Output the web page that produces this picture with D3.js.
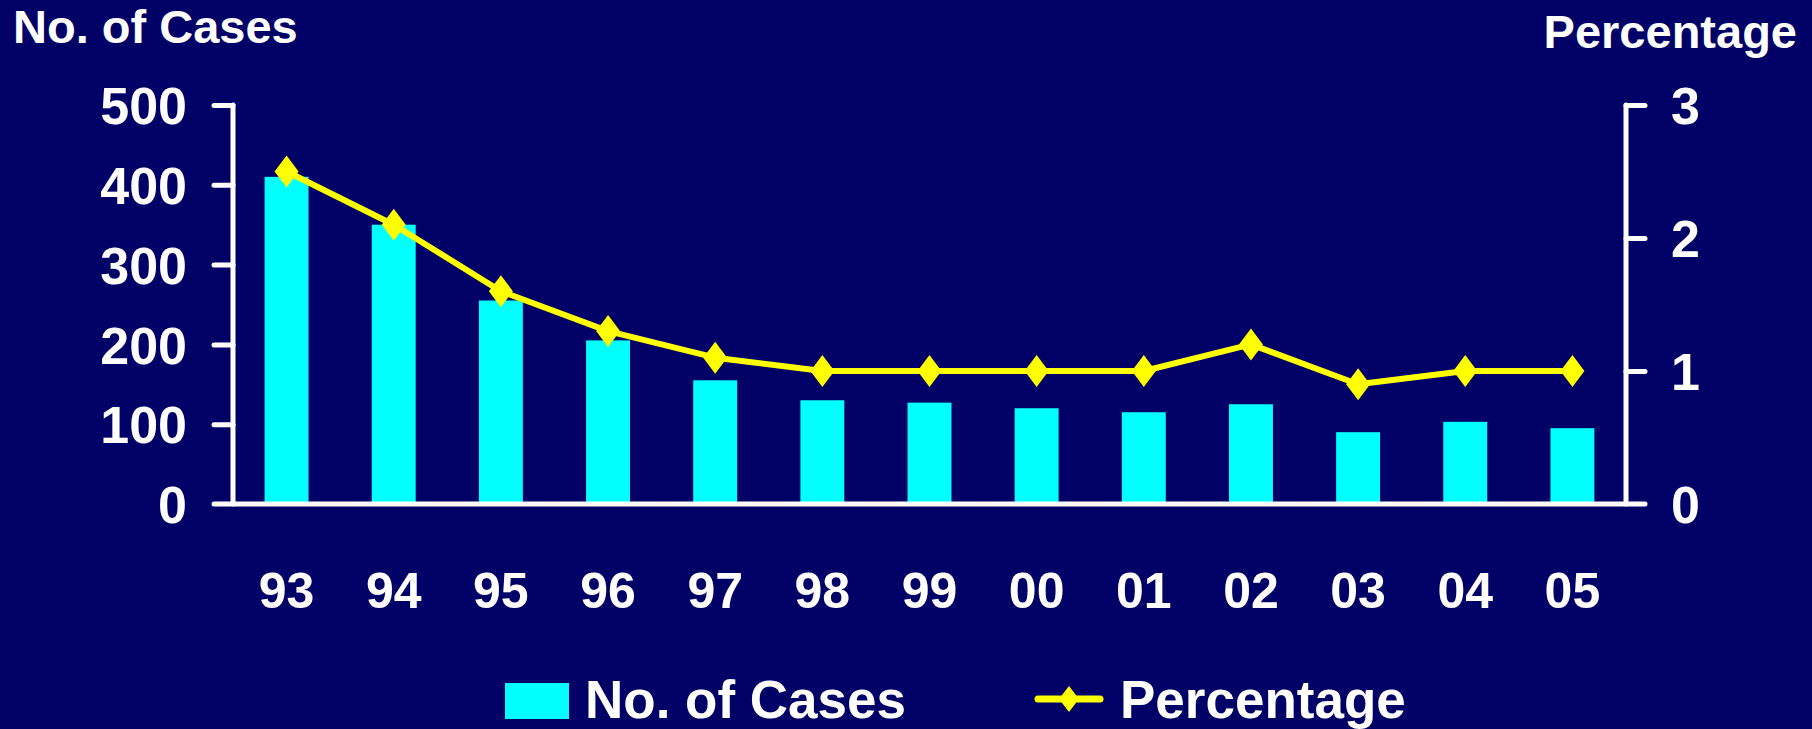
<!DOCTYPE html>
<meta charset="utf-8">
<style type="text/css">
    html, body {
        margin: 0;
        padding: 0;
        background: #000066;
    }
    svg text {
        font-family: Arial, "Liberation Sans", sans-serif;
        font-weight: bold;
        fill: #ffffff;
    }
</style>
<svg id="chart"></svg>
<script src="https://cdn.jsdelivr.net/npm/d3@7/dist/d3.min.js" type="text/javascript"></script>
<script type="text/javascript">
    // data
    var years = ["93", "94", "95", "96", "97", "98", "99", "00", "01", "02", "03", "04", "05"];
    var cases = [410, 350, 255, 205, 155, 130, 127, 120, 115, 125, 90, 103, 95];
    var percentage = [2.5, 2.1, 1.6, 1.3, 1.1, 1.0, 1.0, 1.0, 1.0, 1.2, 0.9, 1.0, 1.0];
    var casesTicks = [0, 100, 200, 300, 400, 500];
    var pctTicks = [0, 1, 2, 3];

    var width = 1812, height = 729;
    // plot edges (don't call it "top", that's window.top)
    var plotLeft = 233, plotRight = 1626, plotTop = 105, plotBottom = 504;

    var svg = d3.select("#chart")
        .attr("width", width)
        .attr("height", height);

    svg.append("rect")
        .attr("width", width)
        .attr("height", height)
        .attr("fill", "#000066");

    var x = d3.scaleBand()
        .domain(years)
        .range([plotLeft, plotRight])
        .paddingInner(0.59)
        .paddingOuter(0.295);

    var yCases = d3.scaleLinear().domain([0, 500]).range([plotBottom, plotTop]);
    var yPct = d3.scaleLinear().domain([0, 3]).range([plotBottom, plotTop]);

    // bars
    svg.append("g").selectAll("rect")
        .data(years)
        .join("rect")
        .attr("x", d => x(d))
        .attr("width", x.bandwidth())
        .attr("y", (d, i) => yCases(cases[i]))
        .attr("height", (d, i) => yCases(0) - yCases(cases[i]))
        .attr("fill", "#00ffff");

    // axes, restyled after the generators run
    var leftAxis = svg.append("g")
        .attr("transform", "translate(" + plotLeft + ",0)")
        .call(d3.axisLeft(yCases).tickValues(casesTicks).tickSize(19).tickPadding(27).tickFormat(d3.format("d")));
    var rightAxis = svg.append("g")
        .attr("transform", "translate(" + plotRight + ",0)")
        .call(d3.axisRight(yPct).tickValues(pctTicks).tickSize(19).tickPadding(26).tickFormat(d3.format("d")));

    [leftAxis, rightAxis].forEach(function (g) {
        g.select(".domain").remove();
        g.selectAll(".tick line")
            .attr("stroke", "#ffffff")
            .attr("stroke-width", 5)
            .attr("stroke-linecap", "round");
        g.selectAll(".tick text")
            .attr("fill", "#ffffff")
            .attr("font-size", 52)
            .attr("font-family", "Arial, 'Liberation Sans', sans-serif")
            .attr("font-weight", "bold")
            .attr("dy", "0.36em");
    });
    // zero ticks are covered by the baseline
    leftAxis.selectAll(".tick").filter(d => d === 0).select("line").remove();
    rightAxis.selectAll(".tick").filter(d => d === 0).select("line").remove();

    var axisLines = svg.append("g")
        .attr("stroke", "#ffffff")
        .attr("stroke-width", 5)
        .attr("stroke-linecap", "round");
    axisLines.append("line").attr("x1", plotLeft).attr("x2", plotLeft).attr("y1", plotTop).attr("y2", plotBottom);
    axisLines.append("line").attr("x1", plotRight).attr("x2", plotRight).attr("y1", plotTop).attr("y2", plotBottom);
    axisLines.append("line").attr("x1", plotLeft - 19).attr("x2", plotRight + 19).attr("y1", plotBottom).attr("y2", plotBottom);

    // x labels
    svg.append("g").selectAll("text")
        .data(years)
        .join("text")
        .attr("x", d => x(d) + x.bandwidth() / 2)
        .attr("y", 608)
        .attr("text-anchor", "middle")
        .attr("font-size", 50)
        .text(d => d);

    // percentage line
    var cx = (d, i) => x(years[i]) + x.bandwidth() / 2;
    var line = d3.line()
        .x((d, i) => cx(d, i))
        .y(d => yPct(d));

    svg.append("path")
        .datum(percentage)
        .attr("d", line)
        .attr("fill", "none")
        .attr("stroke", "#ffff00")
        .attr("stroke-width", 6)
        .attr("stroke-linejoin", "round");

    function diamond(w, h) {
        return "M0," + (-h) + "L" + w + ",0L0," + h + "L" + (-w) + ",0Z";
    }

    svg.append("g").selectAll("path")
        .data(percentage)
        .join("path")
        .attr("transform", (d, i) => "translate(" + cx(d, i) + "," + yPct(d) + ")")
        .attr("d", diamond(12, 16))
        .attr("fill", "#ffff00");

    // axis titles
    svg.append("text")
        .attr("x", 13)
        .attr("y", 43)
        .attr("font-size", 47)
        .text("No. of Cases");
    svg.append("text")
        .attr("x", 1797)
        .attr("y", 48)
        .attr("text-anchor", "end")
        .attr("font-size", 47)
        .text("Percentage");

    // legend
    var legend = svg.append("g");
    legend.append("rect")
        .attr("x", 505).attr("y", 683)
        .attr("width", 64).attr("height", 36)
        .attr("fill", "#00ffff");
    legend.append("text")
        .attr("x", 585).attr("y", 718)
        .attr("font-size", 53)
        .text("No. of Cases");
    legend.append("line")
        .attr("x1", 1038).attr("x2", 1100)
        .attr("y1", 699).attr("y2", 699)
        .attr("stroke", "#ffff00")
        .attr("stroke-width", 7)
        .attr("stroke-linecap", "round");
    legend.append("path")
        .attr("transform", "translate(1069,699)")
        .attr("d", diamond(10, 13))
        .attr("fill", "#ffff00");
    legend.append("text")
        .attr("x", 1120).attr("y", 718)
        .attr("font-size", 53)
        .text("Percentage");
</script>
